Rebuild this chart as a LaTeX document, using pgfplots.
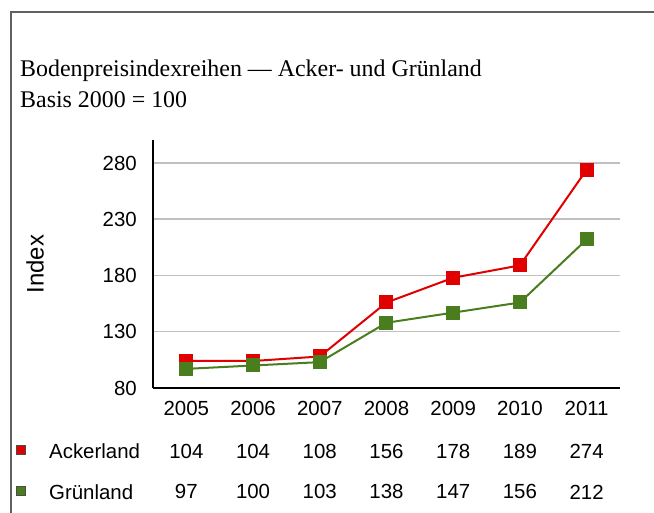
\documentclass[border=0pt]{standalone}
\usepackage{pgfplots}
\pgfplotsset{compat=1.18}
\usepackage{pgfplotstable}
\usepackage{fontspec}
\setmainfont{Liberation Serif}
\newfontfamily\arial{Liberation Sans}
\definecolor{ackred}{HTML}{E00000}
\definecolor{gruen}{HTML}{4A7D1E}
\definecolor{gridgray}{HTML}{C0C0C0}
\definecolor{framegray}{HTML}{606060}
\pgfplotstableread{
x year a g
0 2005 104 97
1 2006 104 100
2 2007 108 103
3 2008 156 138
4 2009 178 147
5 2010 189 156
6 2011 274 212
}\data
\begin{document}
\begin{tikzpicture}
\useasboundingbox (0bp,0bp) rectangle (654bp,513bp);
\draw[framegray, line width=1.5bp] (11bp,0bp) -- (11bp,501bp) -- (654bp,501bp);
\node[anchor=base west, inner sep=0pt, font=\fontsize{24}{28}\selectfont] at (20bp,436bp) {Bodenpreisindexreihen — Acker- und Grünland};
\node[anchor=base west, inner sep=0pt, font=\fontsize{24}{28}\selectfont] at (20bp,405bp) {Basis 2000 = 100};
\begin{axis}[
  at={(153bp,125bp)}, anchor=south west,
  scale only axis, width=467bp, height=247.5bp,
  xmin=-0.5, xmax=6.5, ymin=80, ymax=300,
  axis x line=bottom, axis y line=left,
  axis line style={black, line width=1.5bp, -},
  x axis line style={line width=2bp},
  xtick=data, xticklabels={2005,2006,2007,2008,2009,2010,2011},
  ytick={80,130,180,230,280},
  major tick length=0pt,
  ymajorgrids, grid style={gridgray, line width=1.5bp},
  /pgf/number format/assume math mode=true,
  ticklabel style={font=\arial\fontsize{20.5}{24}\selectfont, inner sep=0pt},
  yticklabel style={anchor=east, xshift=-16bp},
  xticklabel style={anchor=center, yshift=-20bp},
  ylabel={Index}, ylabel style={font=\arial\fontsize{24}{28}\selectfont, at={(axis description cs:0,0.5)}, anchor=center, yshift=118bp, inner sep=0pt},
  clip=false,
]
\addplot[ackred, line width=2bp, mark=square*, mark size=6bp, mark options={solid}] table[x=x,y=a]{\data};
\addplot[gruen, line width=2bp, mark=square*, mark size=6bp, mark options={solid}] table[x=x,y=g]{\data};
\addplot[draw=none, mark=none, nodes near coords, point meta=explicit,
  every node near coord/.append style={anchor=center, inner sep=0pt, font=\arial\fontsize{20.5}{24}\selectfont, black}]
  table[x=x, y expr=24, meta=a]{\data};
\addplot[draw=none, mark=none, nodes near coords, point meta=explicit,
  every node near coord/.append style={anchor=center, inner sep=0pt, font=\arial\fontsize{20.5}{24}\selectfont, black}]
  table[x=x, y expr=-12.4, meta=g]{\data};
\end{axis}
\fill[ackred, draw=black!70, line width=1bp] (16bp,58bp) rectangle (25bp,67bp);
\fill[gruen, draw=black!70, line width=1bp] (16bp,17bp) rectangle (25bp,26bp);
\node[anchor=west, inner sep=0pt, font=\arial\fontsize{20.5}{24}\selectfont] at (49bp,62bp) {Ackerland};
\node[anchor=west, inner sep=0pt, font=\arial\fontsize{20.5}{24}\selectfont] at (49bp,21bp) {Grünland};
\end{tikzpicture}
\end{document}
